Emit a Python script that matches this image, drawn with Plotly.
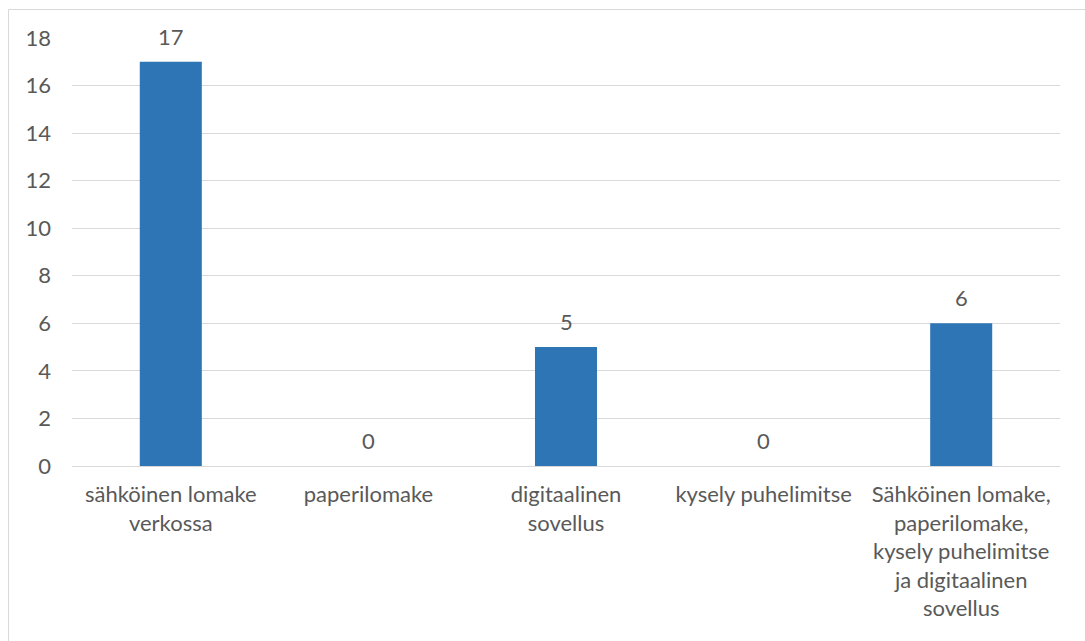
import plotly.graph_objects as go

categories = [
    "sähköinen lomake<br>verkossa",
    "paperilomake",
    "digitaalinen<br>sovellus",
    "kysely puhelimitse",
    "Sähköinen lomake,<br>paperilomake,<br>kysely puhelimitse<br>ja digitaalinen<br>sovellus",
]
values = [17, 0, 5, 0, 6]
y_ticks = [0, 2, 4, 6, 8, 10, 12, 14, 16, 18]

FONT = "Lato"
FS = 22
TXT = "#595959"
GRID = "#D9D9D9"

fig = go.Figure()
fig.add_trace(go.Bar(
    x=categories, y=values,
    marker=dict(color="#2E75B6", line=dict(width=0)),
    width=0.314,
    hoverinfo="skip",
))

for c, v in zip(categories, values):
    fig.add_annotation(
        x=c, y=v, text=str(v), showarrow=False,
        yanchor="bottom", yshift=10,
        font=dict(family=FONT, size=FS, color=TXT),
    )

L, R, T, B = 72, 25, 38, 175
W, H = 1085, 641
pw = W - L - R
ph = H - T - B
fig.add_shape(
    type="rect", xref="paper", yref="paper",
    x0=(8.5 - L) / pw, x1=(W + 5 - L) / pw,
    y0=(H - B - (H + 5)) / ph, y1=(H - B - 9.5) / ph,
    line=dict(color=GRID, width=1), fillcolor="rgba(0,0,0,0)", layer="below",
)

fig.update_layout(
    width=W, height=H,
    margin=dict(l=L, r=R, t=T, b=B),
    paper_bgcolor="white", plot_bgcolor="white",
    showlegend=False,
    font=dict(family=FONT, size=FS, color=TXT),
    xaxis=dict(
        showgrid=False, showline=False, ticks="", tickangle=0,
        tickfont=dict(family=FONT, size=FS, color=TXT),
        ticklabelstandoff=13,
    ),
    yaxis=dict(
        range=[0, 18], tickvals=y_ticks, showgrid=True, gridcolor=GRID, gridwidth=1,
        zeroline=True, zerolinecolor=GRID, zerolinewidth=1,
        showline=False, ticks="",
        tickfont=dict(family=FONT, size=FS, color=TXT),
        ticklabelstandoff=20,
    ),
)

fig.write_html("out.html")
